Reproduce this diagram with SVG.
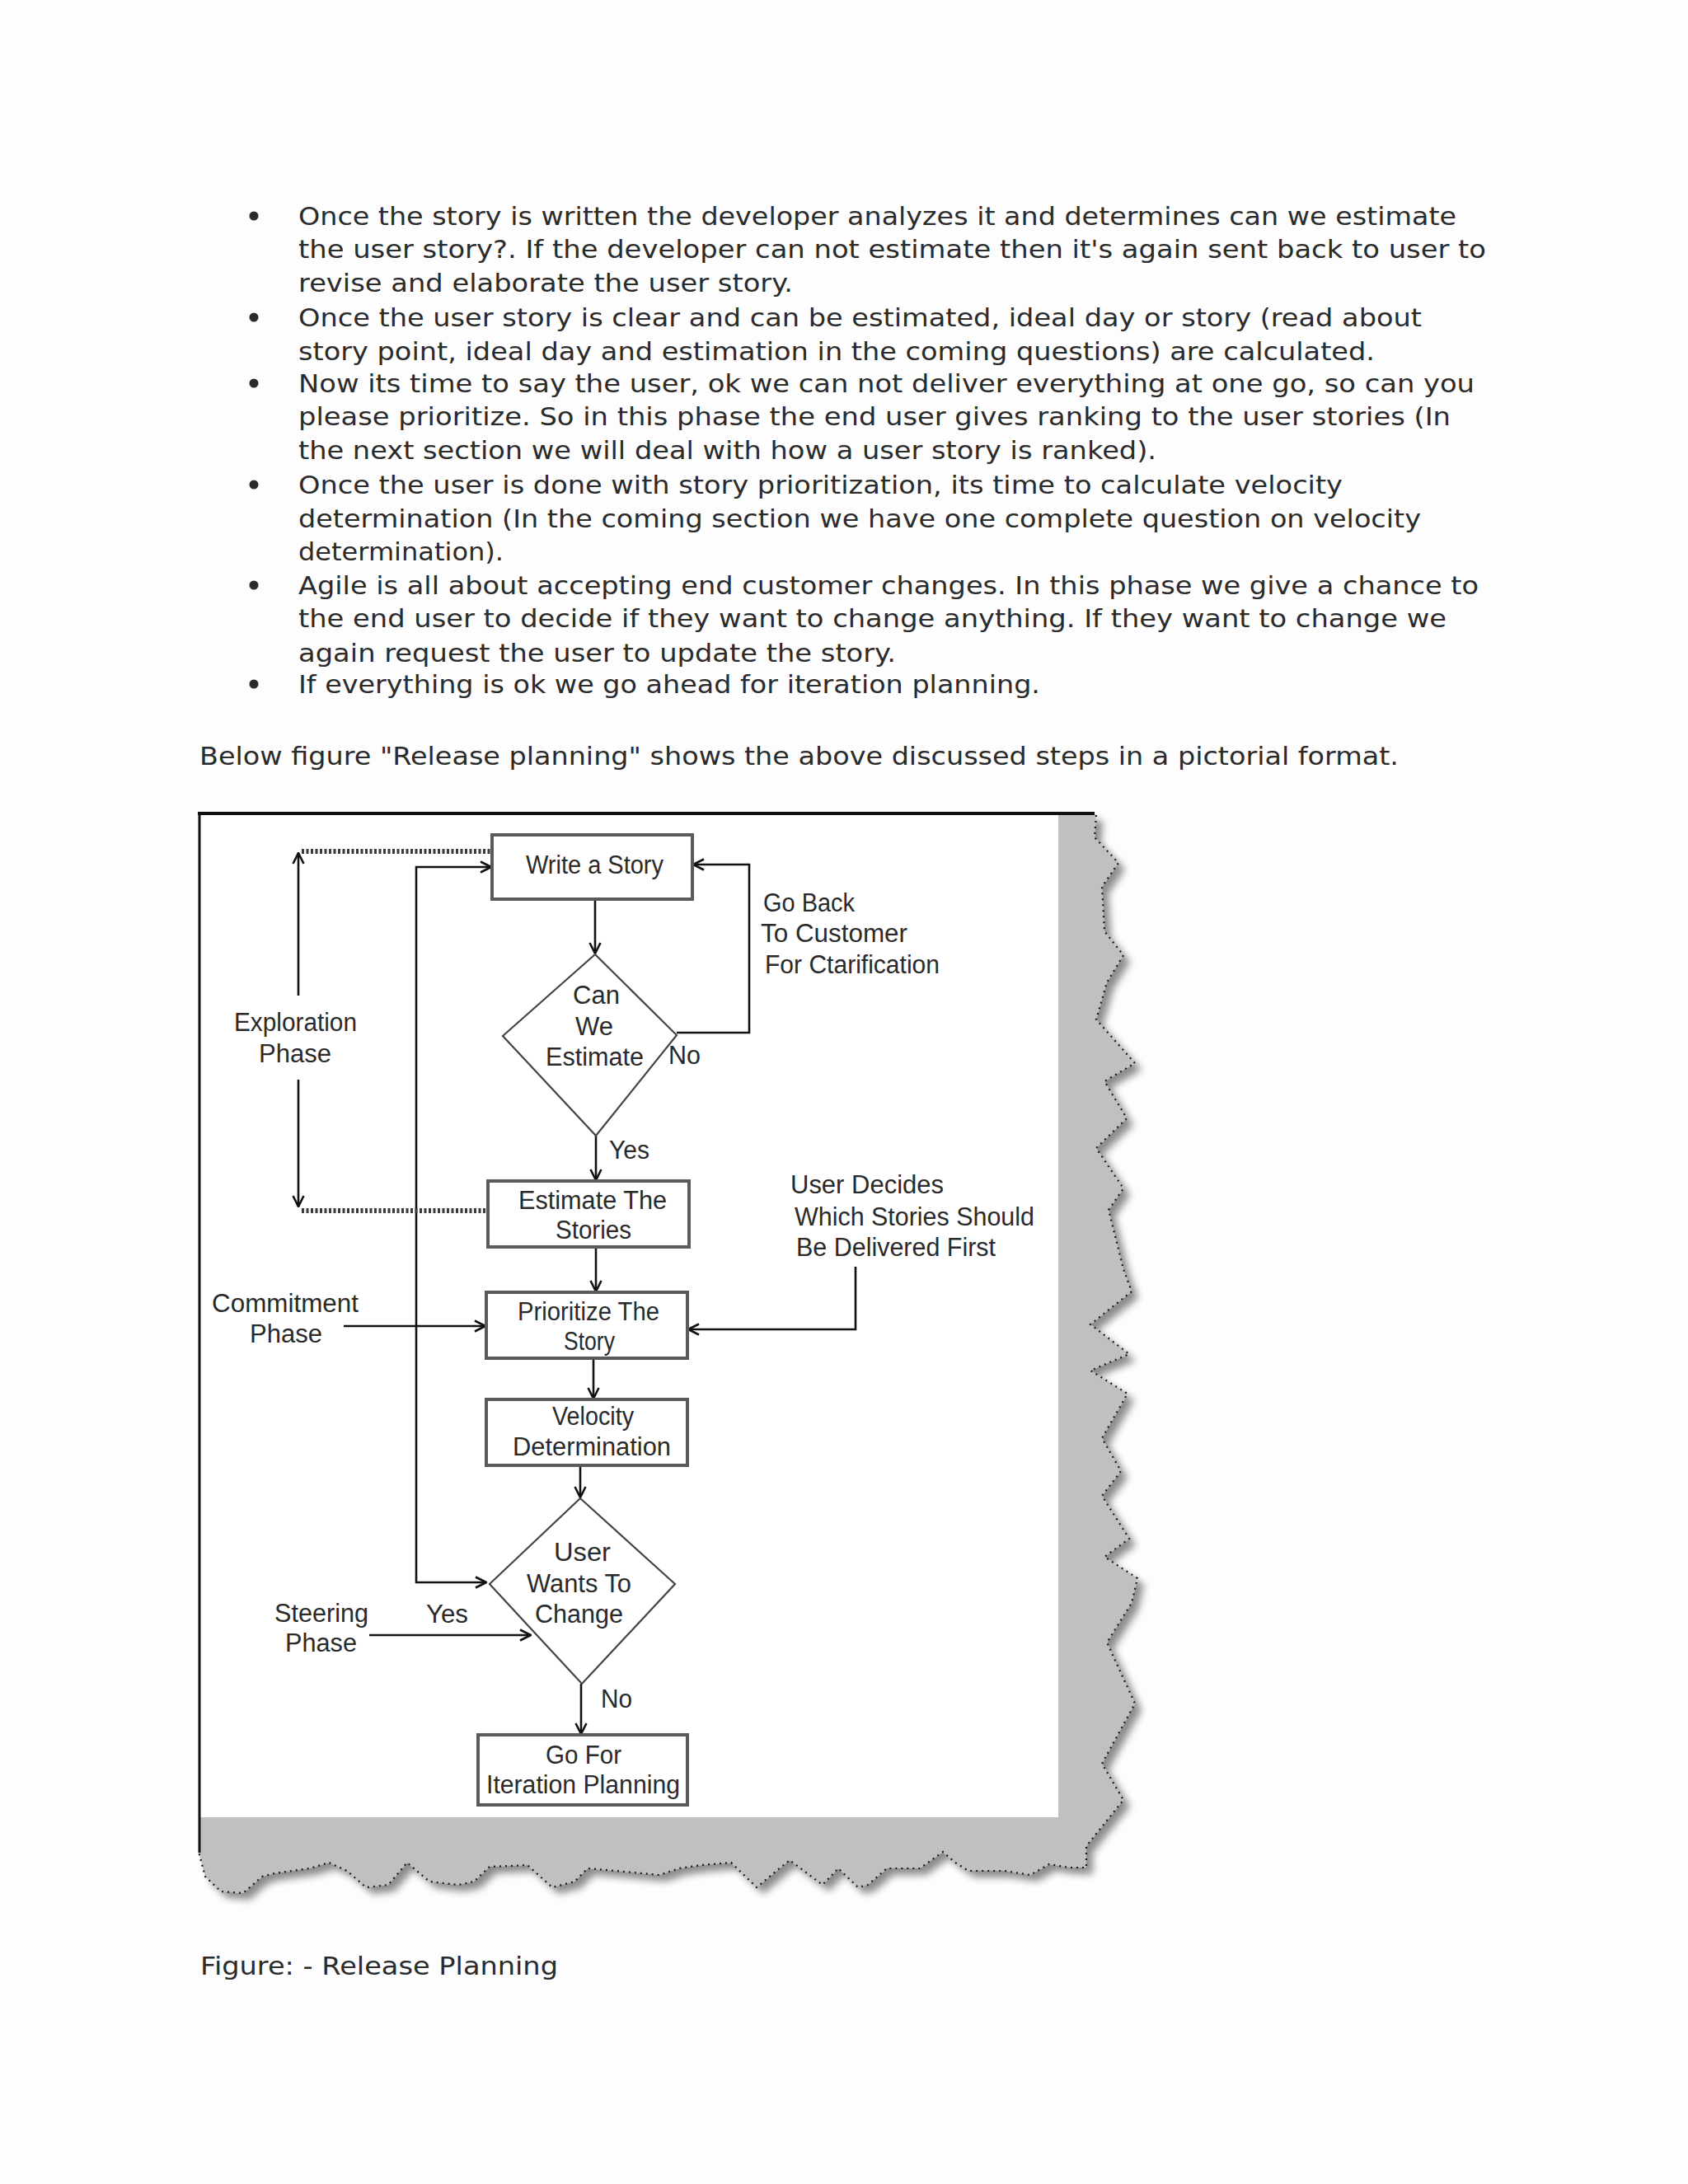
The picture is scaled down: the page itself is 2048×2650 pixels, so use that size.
<svg xmlns="http://www.w3.org/2000/svg" width="2048" height="2650" viewBox="0 0 2048 2650">
<style>
.body{font-family:"DejaVu Sans","Liberation Sans",sans-serif;font-size:30px;fill:#2b2b2b}
.lbl{font-family:"Liberation Sans",Arial,sans-serif;font-size:31px;fill:#2a2a2a}
.box{fill:#ffffff;stroke:#5a5a5a;stroke-width:4}
.dia{fill:#ffffff;stroke:#444;stroke-width:2.2}
.con{fill:none;stroke:#111;stroke-width:2.6}
.dot{fill:none;stroke:#3a3a3a;stroke-width:6;stroke-dasharray:3 2.5}
</style>
<defs>
<marker id="arr" viewBox="0 0 16 16" refX="15" refY="8" markerWidth="16" markerHeight="16" orient="auto" markerUnits="userSpaceOnUse">
<path d="M2,1.5 L15,8 L2,14.5" fill="none" stroke="#111" stroke-width="2.6"/>
</marker>
<filter id="sh" x="-5%" y="-5%" width="115%" height="115%">
<feGaussianBlur in="SourceAlpha" stdDeviation="5"/>
<feOffset dx="8" dy="8" result="b"/>
<feComponentTransfer><feFuncA type="linear" slope="0.45"/></feComponentTransfer>
<feMerge><feMergeNode/><feMergeNode in="SourceGraphic"/></feMerge>
</filter>
</defs>
<rect x="0" y="0" width="2048" height="2650" fill="#fdfdfe"/>

<g id="bullets-text">
<circle cx="308" cy="262" r="5.5" fill="#2b2b2b"/>
<circle cx="308" cy="385" r="5.5" fill="#2b2b2b"/>
<circle cx="308" cy="465" r="5.5" fill="#2b2b2b"/>
<circle cx="308" cy="588" r="5.5" fill="#2b2b2b"/>
<circle cx="308" cy="710" r="5.5" fill="#2b2b2b"/>
<circle cx="308" cy="830" r="5.5" fill="#2b2b2b"/>
<text class="body" x="362" y="273" textLength="1405" lengthAdjust="spacingAndGlyphs">Once the story is written the developer analyzes it and determines  can we estimate</text>
<text class="body" x="362" y="313" textLength="1441" lengthAdjust="spacingAndGlyphs">the user story?. If the developer can not estimate then it's again sent back to user to</text>
<text class="body" x="362" y="354" textLength="600" lengthAdjust="spacingAndGlyphs">revise and elaborate the user story.</text>
<text class="body" x="362" y="396" textLength="1363" lengthAdjust="spacingAndGlyphs">Once the user story is clear and can be estimated, ideal day or story (read about</text>
<text class="body" x="362" y="437" textLength="1306" lengthAdjust="spacingAndGlyphs">story point, ideal day and estimation in the coming questions) are calculated.</text>
<text class="body" x="362" y="476" textLength="1427" lengthAdjust="spacingAndGlyphs">Now its time to say the user, ok we can not deliver everything at one go, so can you</text>
<text class="body" x="362" y="516" textLength="1398" lengthAdjust="spacingAndGlyphs">please prioritize. So in this phase the end user gives ranking to the user stories (In</text>
<text class="body" x="362" y="557" textLength="1041" lengthAdjust="spacingAndGlyphs">the next section we will deal with how a user story is ranked).</text>
<text class="body" x="362" y="599" textLength="1267" lengthAdjust="spacingAndGlyphs">Once the user is done with story prioritization, its time to calculate velocity</text>
<text class="body" x="362" y="640" textLength="1362" lengthAdjust="spacingAndGlyphs">determination (In the coming section we have one complete question on velocity</text>
<text class="body" x="362" y="680" textLength="249" lengthAdjust="spacingAndGlyphs">determination).</text>
<text class="body" x="362" y="721" textLength="1432" lengthAdjust="spacingAndGlyphs">Agile is all about accepting end customer changes. In this phase we give a chance to</text>
<text class="body" x="362" y="761" textLength="1393" lengthAdjust="spacingAndGlyphs">the end user to decide if they want to change anything. If they want to change we</text>
<text class="body" x="362" y="803" textLength="725" lengthAdjust="spacingAndGlyphs">again request the user to update the story.</text>
<text class="body" x="362" y="841" textLength="900" lengthAdjust="spacingAndGlyphs">If everything is ok we go ahead for iteration planning.</text>
<text class="body" x="242" y="928" textLength="1455" lengthAdjust="spacingAndGlyphs">Below figure "Release planning"  shows the above discussed steps in a pictorial format.</text>
<text class="body" x="243" y="2396" textLength="434" lengthAdjust="spacingAndGlyphs">Figure: - Release  Planning</text>
</g>

<g id="frame">
<path filter="url(#sh)" fill="#c0c0c2" d="M241,987 L1327,987 L1330,989 L1328,1016 L1357,1047 L1337,1076 L1340,1130 L1363,1159 L1343,1192 L1330,1237 L1377,1290 L1340,1312 L1367,1357 L1330,1393 L1363,1442 L1345,1468 L1363,1540 L1373,1567 L1323,1607 L1370,1643 L1323,1663 L1368,1691 L1337,1745 L1360,1785 L1337,1815 L1370,1867 L1340,1889 L1380,1915 L1373,1945 L1343,1993 L1377,2067 L1337,2140 L1363,2184 L1318,2240 L1318,2266 L1297,2266 L1273,2262 L1250,2275 L1219,2270 L1175,2270 L1159,2260 L1144,2247 L1116,2267 L1076,2267 L1053,2287 L1041,2290 L1017,2267 L998,2287 L958,2257 L918,2290 L887,2260 L851,2263 L824,2267 L800,2275 L747,2270 L713,2267 L697,2283 L670,2290 L651,2273 L640,2263 L594,2265 L575,2283 L556,2287 L521,2283 L494,2260 L471,2287 L444,2290 L421,2270 L399,2260 L376,2267 L333,2273 L318,2277 L295,2297 L268,2295 L249,2277 L241,2247 Z"/>
<path fill="none" stroke="#1a1a1a" stroke-width="2.2" stroke-dasharray="2 5" d="M1330,989 L1328,1016 L1357,1047 L1337,1076 L1340,1130 L1363,1159 L1343,1192 L1330,1237 L1377,1290 L1340,1312 L1367,1357 L1330,1393 L1363,1442 L1345,1468 L1363,1540 L1373,1567 L1323,1607 L1370,1643 L1323,1663 L1368,1691 L1337,1745 L1360,1785 L1337,1815 L1370,1867 L1340,1889 L1380,1915 L1373,1945 L1343,1993 L1377,2067 L1337,2140 L1363,2184 L1318,2240 L1318,2266 L1297,2266 L1273,2262 L1250,2275 L1219,2270 L1175,2270 L1159,2260 L1144,2247 L1116,2267 L1076,2267 L1053,2287 L1041,2290 L1017,2267 L998,2287 L958,2257 L918,2290 L887,2260 L851,2263 L824,2267 L800,2275 L747,2270 L713,2267 L697,2283 L670,2290 L651,2273 L640,2263 L594,2265 L575,2283 L556,2287 L521,2283 L494,2260 L471,2287 L444,2290 L421,2270 L399,2260 L376,2267 L333,2273 L318,2277 L295,2297 L268,2295 L249,2277 L241,2247"/>
<rect x="242" y="988" width="1042" height="1217" fill="#ffffff"/>
<line x1="240" y1="987" x2="1328" y2="987" stroke="#111" stroke-width="4"/>
<line x1="242" y1="985" x2="242" y2="2248" stroke="#111" stroke-width="3"/>
</g>

<g id="connectors">
<line class="con" x1="722" y1="1092" x2="722" y2="1157" marker-end="url(#arr)"/>
<line class="con" x1="723" y1="1378" x2="723" y2="1432" marker-end="url(#arr)"/>
<line class="con" x1="723" y1="1513" x2="723" y2="1567" marker-end="url(#arr)"/>
<line class="con" x1="720" y1="1648" x2="720" y2="1697" marker-end="url(#arr)"/>
<line class="con" x1="704" y1="1778" x2="704" y2="1817" marker-end="url(#arr)"/>
<line class="con" x1="705" y1="2043" x2="705" y2="2104" marker-end="url(#arr)"/>
<polyline class="con" points="821,1253 909,1253 909,1049 841,1049" marker-end="url(#arr)"/>
<polyline class="con" points="505,1921 505,1052 596,1052" marker-end="url(#arr)"/>
<line class="con" x1="504" y1="1920" x2="590" y2="1920" marker-end="url(#arr)"/>
<line class="con" x1="417" y1="1609" x2="589" y2="1609" marker-end="url(#arr)"/>
<polyline class="con" points="1038,1537 1038,1613 835,1613" marker-end="url(#arr)"/>
<line class="con" x1="448" y1="1984" x2="644" y2="1984" marker-end="url(#arr)"/>
<line class="con" x1="362" y1="1208" x2="362" y2="1035" marker-end="url(#arr)"/>
<line class="con" x1="362" y1="1310" x2="362" y2="1464" marker-end="url(#arr)"/>
<line class="dot" x1="366" y1="1033" x2="596" y2="1033"/>
<line class="dot" x1="366" y1="1469" x2="591" y2="1469"/>
</g>

<g id="write-story">
<rect class="box" x="597" y="1013" width="243" height="78"/>
<text class="lbl" x="638" y="1060" textLength="167" lengthAdjust="spacingAndGlyphs">Write a Story</text>
</g>
<g id="can-we-estimate">
<polygon class="dia" points="722,1158 821,1256 723,1378 610,1257"/>
<text class="lbl" x="695" y="1218" textLength="57" lengthAdjust="spacingAndGlyphs">Can</text>
<text class="lbl" x="698" y="1256" textLength="46" lengthAdjust="spacingAndGlyphs">We</text>
<text class="lbl" x="662" y="1293" textLength="119" lengthAdjust="spacingAndGlyphs">Estimate</text>
</g>
<g id="estimate-stories">
<rect class="box" x="592" y="1433" width="244" height="80"/>
<text class="lbl" x="629" y="1467" textLength="180" lengthAdjust="spacingAndGlyphs">Estimate The</text>
<text class="lbl" x="674" y="1503" textLength="92" lengthAdjust="spacingAndGlyphs">Stories</text>
</g>
<g id="prioritize">
<rect class="box" x="590" y="1568" width="244" height="80"/>
<text class="lbl" x="628" y="1602" textLength="172" lengthAdjust="spacingAndGlyphs">Prioritize The</text>
<text class="lbl" x="684" y="1638" textLength="62" lengthAdjust="spacingAndGlyphs">Story</text>
</g>
<g id="velocity">
<rect class="box" x="590" y="1698" width="244" height="80"/>
<text class="lbl" x="670" y="1729" textLength="99" lengthAdjust="spacingAndGlyphs">Velocity</text>
<text class="lbl" x="622" y="1766" textLength="192" lengthAdjust="spacingAndGlyphs">Determination</text>
</g>
<g id="user-wants-change">
<polygon class="dia" points="704,1818 819,1922 706,2043 594,1922"/>
<text class="lbl" x="672" y="1894" textLength="69" lengthAdjust="spacingAndGlyphs">User</text>
<text class="lbl" x="639" y="1932" textLength="127" lengthAdjust="spacingAndGlyphs">Wants To</text>
<text class="lbl" x="649" y="1969" textLength="107" lengthAdjust="spacingAndGlyphs">Change</text>
</g>
<g id="go-for-iteration">
<rect class="box" x="580" y="2105" width="254" height="85"/>
<text class="lbl" x="662" y="2140" textLength="92" lengthAdjust="spacingAndGlyphs">Go For</text>
<text class="lbl" x="590" y="2176" textLength="235" lengthAdjust="spacingAndGlyphs">Iteration Planning</text>
</g>

<g id="labels">
<text class="lbl" x="926" y="1106" textLength="111" lengthAdjust="spacingAndGlyphs">Go Back</text>
<text class="lbl" x="923" y="1143" textLength="178" lengthAdjust="spacingAndGlyphs">To Customer</text>
<text class="lbl" x="928" y="1181" textLength="212" lengthAdjust="spacingAndGlyphs">For Ctarification</text>
<text class="lbl" x="811" y="1291" textLength="39" lengthAdjust="spacingAndGlyphs">No</text>
<text class="lbl" x="739" y="1406" textLength="49" lengthAdjust="spacingAndGlyphs">Yes</text>
<text class="lbl" x="284" y="1251" textLength="149" lengthAdjust="spacingAndGlyphs">Exploration</text>
<text class="lbl" x="314" y="1289" textLength="88" lengthAdjust="spacingAndGlyphs">Phase</text>
<text class="lbl" x="959" y="1448" textLength="186" lengthAdjust="spacingAndGlyphs">User Decides</text>
<text class="lbl" x="964" y="1487" textLength="291" lengthAdjust="spacingAndGlyphs">Which Stories Should</text>
<text class="lbl" x="966" y="1524" textLength="242" lengthAdjust="spacingAndGlyphs">Be Delivered First</text>
<text class="lbl" x="257" y="1592" textLength="178" lengthAdjust="spacingAndGlyphs">Commitment</text>
<text class="lbl" x="303" y="1629" textLength="88" lengthAdjust="spacingAndGlyphs">Phase</text>
<text class="lbl" x="333" y="1968" textLength="114" lengthAdjust="spacingAndGlyphs">Steering</text>
<text class="lbl" x="346" y="2004" textLength="87" lengthAdjust="spacingAndGlyphs">Phase</text>
<text class="lbl" x="517" y="1969" textLength="51" lengthAdjust="spacingAndGlyphs">Yes</text>
<text class="lbl" x="729" y="2072" textLength="38" lengthAdjust="spacingAndGlyphs">No</text>
</g>
</svg>
